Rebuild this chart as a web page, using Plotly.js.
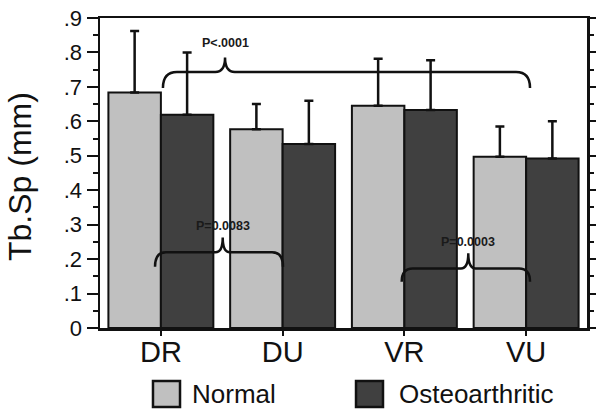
<!DOCTYPE html>
<html>
<head>
<meta charset="utf-8">
<script src="https://cdn.plot.ly/plotly-3.0.1.min.js"></script>
<style>html,body{margin:0;padding:0;background:#fff;}#chart{width:601px;height:415px;}</style>
</head>
<body>
<div id="chart"></div>
<script>
// ---- data ----
var categories = ['DR', 'DU', 'VR', 'VU'];
var seriesNames = ['Normal', 'Osteoarthritic'];
var normalMean = [0.684, 0.577, 0.645, 0.497];
var normalErr  = [0.178, 0.073, 0.137, 0.088];
var oaMean     = [0.619, 0.534, 0.633, 0.492];
var oaErr      = [0.181, 0.126, 0.144, 0.108];
var yTickVals  = [0, 0.1, 0.2, 0.3, 0.4, 0.5, 0.6, 0.7, 0.8, 0.9];
var yTickText  = ['0', '.1', '.2', '.3', '.4', '.5', '.6', '.7', '.8', '.9'];
var pLabels    = ['P<.0001', 'P=0.0083', 'P=0.0003'];
var yTitle     = 'Tb.Sp (mm)';

// ---- styling ----
var colors = ['#c0c0c0', '#404040'];
var FONT = 'Liberation Sans, Arial, sans-serif';
var xIdx = categories.map(function (c, i) { return i; });
var zeros = categories.map(function () { return 0; });

function barTrace(name, y, err, color) {
  return {
    type: 'bar', name: name, x: xIdx, y: y,
    marker: { color: color, line: { color: '#111', width: 2 } },
    error_y: { type: 'data', symmetric: false, array: err, arrayminus: zeros,
               color: '#111', thickness: 2.5, width: 4.5 },
    showlegend: false
  };
}

var traces = [
  barTrace(seriesNames[0], normalMean, normalErr, colors[0]),
  barTrace(seriesNames[1], oaMean, oaErr, colors[1]),
  { type: 'scatter', x: [xIdx[0]], y: [0], yaxis: 'y2', mode: 'markers',
    marker: { opacity: 0 }, showlegend: false, hoverinfo: 'skip' }
];

// curly brace builder (annotation decorations)
function brace(xL, xP, xR, yEnd, yLine, yPeak, rx, rp) {
  return 'M' + xL + ',' + yEnd +
    ' Q' + xL + ',' + yLine + ' ' + (xL + rx) + ',' + yLine +
    ' L' + (xP - rp) + ',' + yLine +
    ' Q' + xP + ',' + yLine + ' ' + xP + ',' + yPeak +
    ' Q' + xP + ',' + yLine + ' ' + (xP + rp) + ',' + yLine +
    ' L' + (xR - rx) + ',' + yLine +
    ' Q' + xR + ',' + yLine + ' ' + xR + ',' + yEnd;
}
var braceDefs = [
  { xL: 0.017, xP: 0.527, xR: 3.032, yEnd: 0.697, yLine: 0.743, yPeak: 0.785, rx: 0.115, rp: 0.08, ty: 0.828 },
  { xL: -0.048, xP: 0.508, xR: 1.003, yEnd: 0.178, yLine: 0.220, yPeak: 0.263, rx: 0.09, rp: 0.06, ty: 0.296 },
  { xL: 1.978, xP: 2.525, xR: 3.032, yEnd: 0.134, yLine: 0.173, yPeak: 0.217, rx: 0.09, rp: 0.06, ty: 0.250 }
];

var shapes = braceDefs.map(function (b) {
  return { type: 'path', xref: 'x', yref: 'y',
    path: brace(b.xL, b.xP, b.xR, b.yEnd, b.yLine, b.yPeak, b.rx, b.rp),
    line: { color: '#111', width: 2.5 } };
});
var annotations = braceDefs.map(function (b, i) {
  return { xref: 'x', yref: 'y', x: b.xP, y: b.ty, text: '<b>' + pLabels[i] + '</b>',
    showarrow: false, font: { family: FONT, size: 12.5, color: '#1a1a1a' } };
});

// y-axis title placed as a rotated annotation
annotations.push({ xref: 'paper', yref: 'paper', x: -0.163, y: 0.489,
  xanchor: 'center', yanchor: 'middle', textangle: -90, text: yTitle, showarrow: false,
  font: { family: FONT, size: 32, color: '#111' } });

// legend drawn manually (large swatches)
var legendPos = [
  { bx0: 0.1088, bx1: 0.1643, tx: 0.1848 },
  { bx0: 0.5257, bx1: 0.5811, tx: 0.6099 }
];
legendPos.forEach(function (p, i) {
  shapes.push({ type: 'rect', xref: 'paper', yref: 'paper', x0: p.bx0, x1: p.bx1,
    y0: -0.2548, y1: -0.171, fillcolor: colors[i], line: { color: '#111', width: 2.5 } });
  annotations.push({ xref: 'paper', yref: 'paper', x: p.tx, y: -0.2129,
    xanchor: 'left', yanchor: 'middle', text: seriesNames[i], showarrow: false,
    font: { family: FONT, size: 26, color: '#111' } });
});

var layout = {
  width: 601, height: 415,
  margin: { l: 100, r: 14, t: 18, b: 87, pad: 0 },
  paper_bgcolor: '#fff', plot_bgcolor: '#fff',
  font: { family: FONT, color: '#111' },
  barmode: 'group', bargap: 0.138, bargroupgap: 0,
  showlegend: false,
  xaxis: {
    range: [-0.5, 3.5], tickmode: 'array', tickvals: xIdx, ticktext: categories,
    showline: true, linecolor: '#111', linewidth: 2.5, mirror: true,
    ticks: 'outside', ticklen: 5, tickwidth: 2, tickcolor: '#111',
    ticklabelstandoff: -8,
    tickfont: { family: FONT, size: 29, color: '#111' },
    showgrid: false, zeroline: false, fixedrange: true
  },
  yaxis: {
    range: [0, 0.9], tickmode: 'array', tickvals: yTickVals, ticktext: yTickText,
    showline: true, linecolor: '#111', linewidth: 2.5,
    ticks: 'outside', ticklen: 11, tickwidth: 2, tickcolor: '#111',
    minor: { tickmode: 'linear', tick0: 0.05, dtick: 0.1, ticks: 'outside', ticklen: 5, tickwidth: 2, tickcolor: '#111', showgrid: false },
    tickfont: { family: FONT, size: 22, color: '#111' },
    showgrid: false, zeroline: false, fixedrange: true
  },
  yaxis2: {
    overlaying: 'y', side: 'right', range: [0, 0.9], tickmode: 'array', tickvals: yTickVals,
    showticklabels: false, showline: true, linecolor: '#111', linewidth: 2.5,
    ticks: 'outside', ticklen: 6, tickwidth: 2, tickcolor: '#111',
    minor: { tickmode: 'linear', tick0: 0.05, dtick: 0.1, ticks: 'outside', ticklen: 4, tickwidth: 2, tickcolor: '#111', showgrid: false },
    showgrid: false, zeroline: false, fixedrange: true
  },
  shapes: shapes,
  annotations: annotations
};

Plotly.newPlot('chart', traces, layout, { displayModeBar: false, staticPlot: true });
</script>
</body>
</html>
